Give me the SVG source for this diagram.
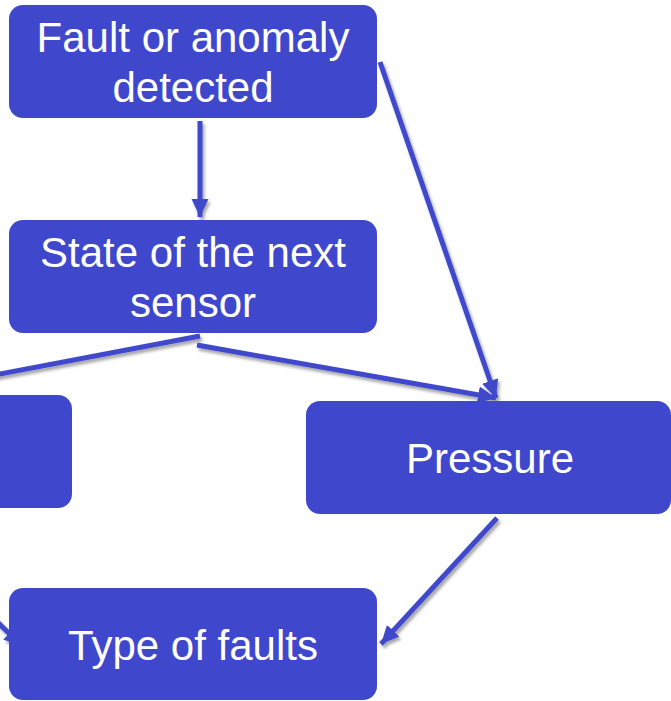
<svg xmlns="http://www.w3.org/2000/svg" width="671" height="701" viewBox="0 0 671 701">
<style>
.box{fill:#3F48CC;}
.lbl{fill:#FFFFFF;font-family:"Liberation Sans",Arial,sans-serif;font-size:42px;text-anchor:middle;}
.con{stroke:#3F48CC;stroke-width:5;fill:none;}
</style>
<defs>
<marker id="arr" markerUnits="userSpaceOnUse" markerWidth="20" markerHeight="18" refX="18" refY="8.5" orient="auto">
<path d="M0,0 L18,8.5 L0,17 Z" fill="#3F48CC"/>
</marker>
<filter id="sh" x="-20%" y="-20%" width="140%" height="140%">
<feDropShadow dx="2" dy="3" stdDeviation="1.5" flood-color="#000" flood-opacity="0.35"/>
</filter>
</defs>
<rect width="671" height="701" fill="#FFFFFF"/>
<g id="connectors" filter="url(#sh)">
<line class="con" x1="200" y1="121" x2="200" y2="217" marker-end="url(#arr)"/>
<line class="con" x1="380" y1="62" x2="496" y2="398" marker-end="url(#arr)"/>
<line class="con" x1="197" y1="345" x2="496" y2="398" marker-end="url(#arr)"/>
<line class="con" x1="200" y1="336" x2="-100" y2="393"/>
<line class="con" x1="497" y1="518" x2="381" y2="644" marker-end="url(#arr)"/>
<line class="con" x1="-20" y1="605" x2="22" y2="646" marker-end="url(#arr)"/>
</g>
<g id="node-fault">
<rect class="box" x="9" y="5" width="368" height="113" rx="14"/>
<text class="lbl" x="193" y="52">Fault or anomaly</text>
<text class="lbl" x="193" y="102">detected</text>
</g>
<g id="node-state">
<rect class="box" x="9" y="220" width="368" height="113" rx="14"/>
<text class="lbl" x="193" y="267">State of the next</text>
<text class="lbl" x="193" y="317">sensor</text>
</g>
<g id="node-left">
<rect class="box" x="-300" y="395" width="372" height="113" rx="14"/>
</g>
<g id="node-pressure">
<rect class="box" x="306" y="401" width="365" height="113" rx="14"/>
<text class="lbl" x="490" y="473">Pressure</text>
</g>
<g id="node-type">
<rect class="box" x="9" y="588" width="368" height="112" rx="14"/>
<text class="lbl" x="193" y="660">Type of faults</text>
</g>
</svg>
